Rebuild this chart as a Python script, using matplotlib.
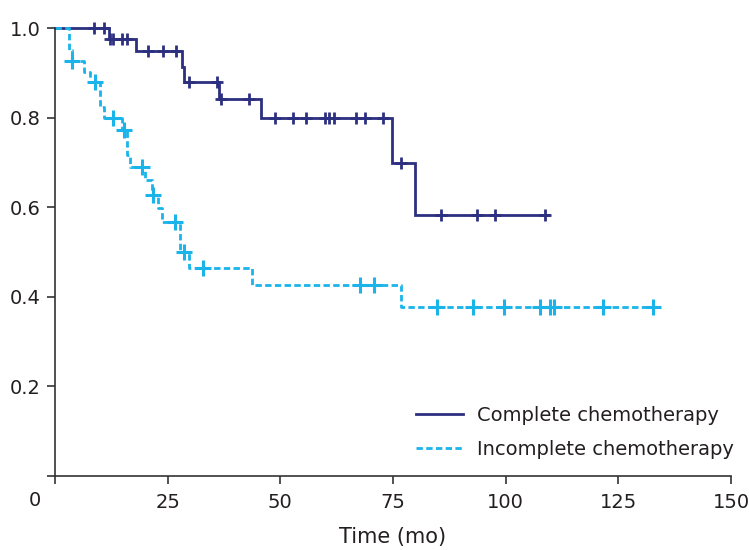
import numpy as np
import matplotlib
matplotlib.use('Agg')
import matplotlib.pyplot as plt
from matplotlib.transforms import IdentityTransform

plt.rcParams['font.family'] = ['DejaVu Sans']

# Kaplan-Meier steps (time in months, survival)
complete_times = [0, 12.0, 18.0, 28.1, 28.7, 36.5, 45.8, 74.7, 79.9]
complete_surv = [1.0, 0.975, 0.949, 0.914, 0.880, 0.841, 0.800, 0.699, 0.583]
complete_end = 109.3
complete_censor = [8.7, 10.9, 12.1, 12.9, 14.8, 15.9, 20.7, 23.9, 26.8, 29.8, 36.0, 36.9,
                   43.0, 48.8, 52.7, 55.7, 59.9, 60.8, 61.8, 66.9, 68.8, 72.7, 76.7,
                   85.6, 93.7, 97.6, 108.7]

incomplete_times = [0, 3.0, 3.7, 6.5, 7.8, 10.0, 10.9, 14.9, 15.9, 16.6, 20.0, 21.6,
                    22.8, 23.8, 27.7, 29.7, 43.7, 76.7]
incomplete_surv = [1.0, 0.951, 0.927, 0.902, 0.880, 0.824, 0.800, 0.772, 0.716, 0.689,
                   0.661, 0.627, 0.599, 0.566, 0.500, 0.464, 0.426, 0.377]
incomplete_end = 133.8
incomplete_censor = [3.8, 8.9, 12.9, 15.2, 19.2, 21.8, 26.6, 28.6, 32.9, 67.7, 70.8,
                     84.8, 92.7, 99.6, 107.6, 109.8, 110.7, 121.5, 132.8]

x_ticks = [0, 25, 50, 75, 100, 125, 150]
y_ticks = [0.0, 0.2, 0.4, 0.6, 0.8, 1.0]
y_tick_labels = ['', '0.2', '0.4', '0.6', '0.8', '1.0']

NAVY = '#2d3080'
CYAN = '#1ab4ea'
TEXT = '#231f20'


def surv_at(times, surv, t):
    # value of the step function at time t
    idx = np.searchsorted(times, t, side='right') - 1
    return np.asarray(surv)[idx]


fig = plt.figure(figsize=(7.49, 5.5), dpi=100)
ax = fig.add_axes([55 / 749, 1 - 476 / 550, 676 / 749, 448 / 550])

# complete chemotherapy
xs = complete_times + [complete_end]
ys = complete_surv + [complete_surv[-1]]
ax.step(xs, ys, where='post', color=NAVY, lw=2.0, label='Complete chemotherapy',
        solid_joinstyle='miter', clip_on=False)
ax.plot(complete_censor, surv_at(complete_times, complete_surv, complete_censor),
        linestyle='none', marker='+', ms=9, mew=2.0, color=NAVY, clip_on=False)

# incomplete chemotherapy
xs = incomplete_times + [incomplete_end]
ys = incomplete_surv + [incomplete_surv[-1]]
ax.step(xs, ys, where='post', color=CYAN, lw=2.0, linestyle=(0, (2.3, 1.2)),
        label='Incomplete chemotherapy', clip_on=False)
ax.plot(incomplete_censor, surv_at(incomplete_times, incomplete_surv, incomplete_censor),
        linestyle='none', marker='+', ms=11, mew=2.2, color=CYAN, clip_on=False)

ax.set_xlim(0, 150)
ax.set_ylim(0, 1.0)
ax.spines['top'].set_visible(False)
ax.spines['right'].set_visible(False)
for side in ['left', 'bottom']:
    ax.spines[side].set_color('#333333')
    ax.spines[side].set_linewidth(1.2)

ax.set_xticks(x_ticks)
ax.set_xticklabels([''] + [str(v) for v in x_ticks[1:]])
ax.set_yticks(y_ticks)
ax.set_yticklabels(y_tick_labels)
ax.tick_params(axis='both', direction='out', length=6, width=1.2, color='#333333',
               labelsize=14, labelcolor=TEXT)
ax.tick_params(axis='x', pad=6)
ax.tick_params(axis='y', pad=4)

# shared corner zero label (pixel position)
ax.text(35, 550 - 500, '0', transform=IdentityTransform(), fontsize=14, color=TEXT,
        ha='center', va='center')

ax.set_xlabel('Time (mo)', fontsize=15, color=TEXT, labelpad=11)

ax.legend(loc='upper left', bbox_to_anchor=(416 / 749, 1 - 406 / 550),
          bbox_transform=fig.transFigure, frameon=False, fontsize=14,
          handlelength=2.4, handletextpad=0.75, labelspacing=0.75,
          borderpad=0, borderaxespad=0, labelcolor=TEXT)

fig.savefig('out.png', dpi=100)
